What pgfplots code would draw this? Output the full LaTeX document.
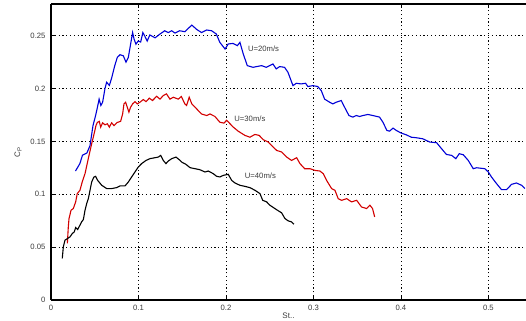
\documentclass[border=0pt]{standalone}
\usepackage{fontspec}
\setmainfont{Liberation Sans}
\usepackage{pgfplots}
\pgfplotsset{compat=1.18}
\definecolor{cblue}{RGB}{0,0,215}
\definecolor{cred}{RGB}{210,0,0}
\definecolor{tgray}{RGB}{60,60,60}
\begin{document}
\begin{tikzpicture}
\begin{axis}[
  scale only axis,
  width=475pt, height=296pt,
  xmin=0, xmax=0.543, ymin=0, ymax=0.28,
  axis x line=box, axis y line=left,
  y axis line style={-},
  axis line style={line width=1.4pt},
  xtick={0,0.1,0.2,0.3,0.4,0.5},
  xticklabels={0,0.1,0.2,0.3,0.4,0.5},
  ytick={0,0.05,0.1,0.15,0.2,0.25},
  yticklabels={0,0.05,0.1,0.15,0.2,0.25},
  /pgf/number format/assume math mode=true,
  tick style={black, line width=0.6pt},
  major tick length=4pt,
  tick align=inside,
  grid=major,
  major grid style={black, line width=0.8pt, dash pattern=on 1.2pt off 2.6pt},
  ticklabel style={font=\fontsize{7.7}{9}\selectfont, text=tgray},
  xticklabel style={yshift=-2pt},
  yticklabel style={xshift=-2pt},
  xlabel={St..},
  ylabel={C$_{\mathrm{P}}$},
  label style={font=\fontsize{8}{9}\selectfont, text=tgray},
  xlabel style={yshift=5pt},
  ylabel style={yshift=2pt},
  clip=true,
]
\addplot[cblue, line width=1.1pt] coordinates {
(0.028,0.122) (0.033,0.129) (0.036,0.137) (0.041,0.139) (0.0446,0.146)
(0.048,0.165) (0.051,0.1745) (0.053,0.182) (0.055,0.190) (0.057,0.184)
(0.059,0.187) (0.0617,0.200) (0.0636,0.206) (0.0667,0.203) (0.069,0.209)
(0.073,0.222) (0.0758,0.2295) (0.0789,0.232) (0.0827,0.231) (0.0857,0.225)
(0.0884,0.2295) (0.091,0.242) (0.0933,0.253) (0.0949,0.247) (0.0971,0.242)
(0.0998,0.245) (0.1025,0.244) (0.105,0.253) (0.107,0.250) (0.110,0.245)
(0.113,0.2507) (0.119,0.248) (0.1246,0.2516) (0.130,0.2547) (0.134,0.253)
(0.138,0.2547) (0.1417,0.2525) (0.147,0.2547) (0.153,0.2538) (0.157,0.257)
(0.161,0.260) (0.1665,0.256) (0.172,0.253) (0.178,0.2554) (0.1836,0.2547)
(0.189,0.2516) (0.193,0.2437) (0.199,0.2374) (0.2026,0.2422) (0.208,0.2427)
(0.213,0.2406) (0.216,0.2437) (0.2198,0.2327) (0.2244,0.2217) (0.231,0.2201)
(0.235,0.2208) (0.2408,0.2217) (0.246,0.2201) (0.25,0.2217) (0.2537,0.2233)
(0.2575,0.2186) (0.2614,0.2208) (0.267,0.2201) (0.2709,0.2154) (0.2766,0.2028)
(0.2804,0.205) (0.286,0.2044) (0.291,0.205) (0.2937,0.2019) (0.2994,0.2028)
(0.305,0.2019) (0.309,0.198) (0.3128,0.190) (0.3185,0.1871) (0.3223,0.1855)
(0.326,0.1871) (0.3318,0.1887) (0.3356,0.1824) (0.3406,0.1745) (0.345,0.173)
(0.349,0.1745) (0.3528,0.1736) (0.3566,0.1745) (0.3623,0.1755) (0.368,0.1745)
(0.3756,0.173) (0.3794,0.1682) (0.384,0.1604) (0.387,0.1597) (0.391,0.1626)
(0.3947,0.1604) (0.4004,0.1579) (0.406,0.1563) (0.4118,0.154) (0.4175,0.1535)
(0.425,0.1525) (0.433,0.1494) (0.4408,0.1488) (0.4465,0.1431) (0.452,0.1377)
(0.458,0.1368) (0.4628,0.1337) (0.4667,0.1384) (0.4713,0.1374) (0.477,0.132)
(0.4827,0.1242) (0.4865,0.1251) (0.496,0.1242) (0.50,0.121) (0.5036,0.1163)
(0.5094,0.110) (0.515,0.1044) (0.5208,0.1044) (0.5265,0.1094) (0.532,0.1107)
(0.538,0.1085) (0.5417,0.1054)
};
\addplot[cred, line width=1.1pt] coordinates {
(0.0187,0.0535) (0.0198,0.0692) (0.0206,0.077) (0.0229,0.0849) (0.0255,0.0865)
(0.0282,0.0928) (0.030,0.1006) (0.0331,0.1038) (0.0358,0.112) (0.0389,0.1195)
(0.0427,0.134) (0.0465,0.1478) (0.0495,0.158) (0.0514,0.165) (0.053,0.168)
(0.0552,0.169) (0.0568,0.1635) (0.059,0.1676) (0.0617,0.1657) (0.0644,0.1667)
(0.0667,0.1635) (0.0693,0.1676) (0.072,0.165) (0.0758,0.168) (0.0796,0.169)
(0.0819,0.176) (0.0834,0.1855) (0.0853,0.1871) (0.0872,0.1824) (0.0891,0.1777)
(0.091,0.1824) (0.0933,0.1855) (0.096,0.1877) (0.0987,0.1855) (0.1017,0.1871)
(0.1055,0.1896) (0.1086,0.1877) (0.1124,0.1909) (0.116,0.1887) (0.1208,0.1927)
(0.1246,0.190) (0.1284,0.1934) (0.132,0.195) (0.136,0.190) (0.1398,0.1918)
(0.1455,0.190) (0.149,0.1925) (0.153,0.1855) (0.155,0.184) (0.158,0.1918)
(0.161,0.1855) (0.1665,0.1808) (0.172,0.176) (0.178,0.1745) (0.1817,0.176)
(0.1874,0.1736) (0.193,0.1682) (0.1977,0.1673) (0.2008,0.170) (0.2084,0.1635)
(0.214,0.1597) (0.2217,0.1557) (0.2274,0.154) (0.2331,0.1566) (0.238,0.1557)
(0.2427,0.1516) (0.2484,0.1494) (0.254,0.1446) (0.258,0.1415) (0.2636,0.140)
(0.2694,0.1352) (0.275,0.132) (0.2808,0.1346) (0.2846,0.129) (0.290,0.1242)
(0.296,0.1242) (0.3017,0.1226) (0.3074,0.122) (0.3112,0.1195) (0.315,0.1132)
(0.3208,0.1054) (0.3246,0.1038) (0.3283,0.0959) (0.3322,0.0943) (0.338,0.0959)
(0.3436,0.0928) (0.3494,0.0943) (0.355,0.088) (0.3608,0.0865) (0.3646,0.0896)
(0.3676,0.0865) (0.370,0.0786)
};
\addplot[black, line width=1.1pt] coordinates {
(0.0129,0.0393) (0.0141,0.0503) (0.016,0.0566) (0.019,0.0582) (0.0217,0.0597)
(0.0244,0.0629) (0.0266,0.0644) (0.0282,0.0686) (0.0305,0.0667) (0.0331,0.0708)
(0.035,0.0739) (0.037,0.0761) (0.0389,0.0849) (0.0408,0.0912) (0.0427,0.0959)
(0.0446,0.1038) (0.0465,0.1116) (0.049,0.1163) (0.051,0.117) (0.0533,0.1132)
(0.058,0.1085) (0.0636,0.1054) (0.0693,0.1054) (0.075,0.1063) (0.0789,0.1079)
(0.0846,0.1079) (0.0884,0.1116) (0.0922,0.1164) (0.096,0.1211) (0.0998,0.1258)
(0.1036,0.129) (0.1086,0.132) (0.1131,0.1337) (0.1189,0.1346) (0.1227,0.1352)
(0.1254,0.1368) (0.1284,0.132) (0.1314,0.129) (0.134,0.1314) (0.138,0.1337)
(0.1429,0.1352) (0.1466,0.1327) (0.1493,0.1305) (0.1543,0.1283) (0.1589,0.1252)
(0.1646,0.1242) (0.170,0.1233) (0.176,0.1211) (0.1798,0.122) (0.1855,0.1195)
(0.1893,0.117) (0.1931,0.1164) (0.197,0.1179) (0.2026,0.1189) (0.2065,0.1132)
(0.2103,0.1107) (0.216,0.1085) (0.2217,0.1075) (0.2274,0.1063) (0.2331,0.1038)
(0.2389,0.1006) (0.242,0.0943) (0.2465,0.0928) (0.2503,0.0896) (0.256,0.0865)
(0.26,0.0843) (0.2636,0.0825) (0.2674,0.0771) (0.2712,0.0748) (0.275,0.0739)
(0.2777,0.0717)
};
\node[font=\fontsize{7.7}{9}\selectfont, text=tgray] at (axis cs:0.243,0.2374) {U=20m/s};
\node[font=\fontsize{7.7}{9}\selectfont, text=tgray] at (axis cs:0.2274,0.1714) {U=30m/s};
\node[font=\fontsize{7.7}{9}\selectfont, text=tgray] at (axis cs:0.2394,0.118) {U=40m/s};
\end{axis}
\pgfresetboundingbox
\path[use as bounding box] ([xshift=-51pt,yshift=-21pt]current axis.south west) rectangle ([yshift=4pt]current axis.north east);
\end{tikzpicture}
\end{document}
